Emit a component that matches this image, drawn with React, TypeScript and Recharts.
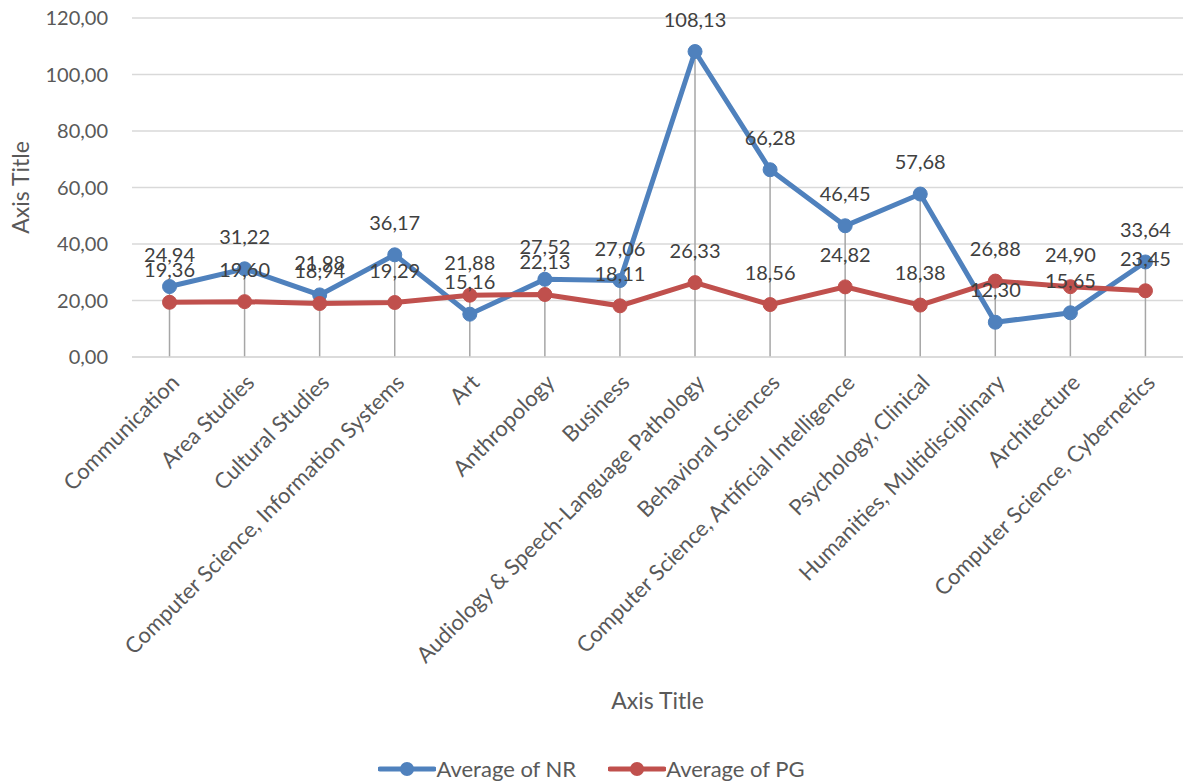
import {
  Bar,
  CartesianGrid,
  ComposedChart,
  LabelList,
  Legend,
  Line,
  XAxis,
  YAxis
} from 'recharts';

const categories = [
  'Communication',
  'Area Studies',
  'Cultural Studies',
  'Computer Science, Information Systems',
  'Art',
  'Anthropology',
  'Business',
  'Audiology & Speech-Language Pathology',
  'Behavioral Sciences',
  'Computer Science, Artificial Intelligence',
  'Psychology, Clinical',
  'Humanities, Multidisciplinary',
  'Architecture',
  'Computer Science, Cybernetics',
];

const nrValues = [24.94, 31.22, 21.98, 36.17, 15.16, 27.52, 27.06, 108.13, 66.28, 46.45, 57.68, 12.30, 15.65, 33.64];
const pgValues = [19.36, 19.60, 18.94, 19.29, 21.88, 22.13, 18.11, 26.33, 18.56, 24.82, 18.38, 26.88, 24.90, 23.45];

const yTicks = [0, 20, 40, 60, 80, 100, 120];

const seriesNames = { nr: 'Average of NR', pg: 'Average of PG' };

const BLUE = '#4f81bd';
const RED = '#c0504d';
const FONT = 'Lato, sans-serif';

const chartData = categories.map((name, i) => ({
  name,
  nr: nrValues[i],
  pg: pgValues[i],
  drop: Math.max(nrValues[i], pgValues[i]),
}));

const fmt = (v: number) => Number(v).toFixed(2).replace('.', ',');

const DropLine = (props: any) => {
  const { x, y, width, height } = props;
  const cx = x + width / 2;
  return <line x1={cx} y1={y} x2={cx} y2={y + height} stroke='#a6a6a6' strokeWidth={1.5} />;
};

const LegendContent = () => (
  <div style={{ height: 75, display: 'flex', alignItems: 'flex-end', justifyContent: 'center' }}>
    <div style={{ display: 'flex', gap: 32, marginBottom: 2, fontFamily: FONT, fontSize: 22, color: '#595959' }}>
      {[{ c: BLUE, n: seriesNames.nr }, { c: RED, n: seriesNames.pg }].map(it => (
        <div key={it.n} style={{ display: 'flex', alignItems: 'center' }}>
          <svg width={58} height={22}>
            <line x1={2} y1={11} x2={56} y2={11} stroke={it.c} strokeWidth={5} strokeLinecap='round' />
            <circle cx={29} cy={11} r={7} fill={it.c} />
          </svg>
          <span>{it.n}</span>
        </div>
      ))}
    </div>
  </div>
);

export default function App() {
  return (
    <div>
      <style>{'body{margin:0;background:#fff}'}</style>
      <ComposedChart
        width={1183}
        height={784}
        data={chartData}
        margin={{ top: 18, right: 0, left: 0, bottom: 0 }}
      >
        <CartesianGrid vertical={false} stroke='#d9d9d9' strokeWidth={1.5} />
        <XAxis
          dataKey='name'
          interval={0}
          height={352}
          axisLine={{ stroke: '#d9d9d9', strokeWidth: 1.5 }}
          tickLine={false}
          tickSize={0}
          tickMargin={16}
          angle={-45}
          textAnchor='end'
          tick={{ fill: '#595959', fontSize: 22, fontFamily: FONT }}
          label={{ value: 'Axis Title', position: 'insideBottom', offset: 0, fill: '#595959', fontSize: 23, fontFamily: FONT }}
        />
        <YAxis
          width={132}
          domain={[0, 120]}
          ticks={yTicks}
          axisLine={false}
          tickLine={false}
          tickSize={0}
          tickMargin={24}
          tickFormatter={fmt}
          tick={{ fill: '#595959', fontSize: 20, fontFamily: FONT }}
          label={{
            content: ({ viewBox }: any) => (
              <text
                x={20}
                y={viewBox.y + viewBox.height / 2}
                transform={`rotate(-90, 20, ${viewBox.y + viewBox.height / 2})`}
                textAnchor='middle'
                dominantBaseline='central'
                fill='#595959'
                fontSize={23}
                fontFamily={FONT}
              >
                Axis Title
              </text>
            ),
          }}
        />
        <Legend verticalAlign='bottom' content={<LegendContent />} />
        <Bar dataKey='drop' isAnimationActive={false} shape={<DropLine />} legendType='none' />
        <Line
          dataKey='nr'
          name={seriesNames.nr}
          stroke={BLUE}
          strokeWidth={5}
          dot={{ r: 7, fill: BLUE, stroke: BLUE, strokeWidth: 1 }}
          activeDot={false}
          isAnimationActive={false}
        >
          <LabelList dataKey='nr' position='top' offset={25} formatter={fmt} fill='#404040' fontSize={20} fontFamily={FONT} />
        </Line>
        <Line
          dataKey='pg'
          name={seriesNames.pg}
          stroke={RED}
          strokeWidth={5}
          dot={{ r: 7, fill: RED, stroke: RED, strokeWidth: 1 }}
          activeDot={false}
          isAnimationActive={false}
        >
          <LabelList dataKey='pg' position='top' offset={25} formatter={fmt} fill='#404040' fontSize={20} fontFamily={FONT} />
        </Line>
      </ComposedChart>
    </div>
  );
}
